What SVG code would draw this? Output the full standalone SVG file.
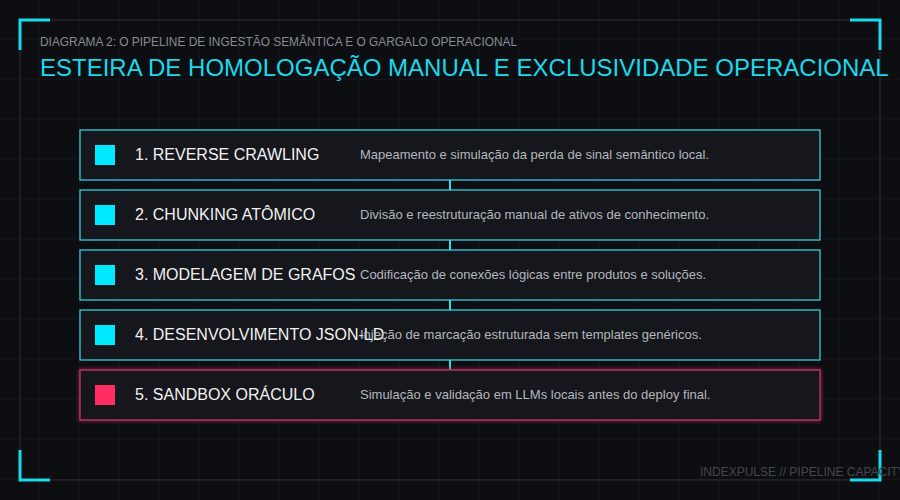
<svg xmlns="http://www.w3.org/2000/svg" width="900" height="500" viewBox="0 0 900 500">
<defs>
<pattern id="grid" width="40" height="40" patternUnits="userSpaceOnUse">
<path d="M40 0 V40 M0 40 H40" fill="none" stroke="#181a1f" stroke-width="1"/>
</pattern>
<filter id="glow" x="-5%" y="-30%" width="110%" height="160%">
<feGaussianBlur in="SourceGraphic" stdDeviation="2" result="b"/>
<feMerge><feMergeNode in="b"/><feMergeNode in="SourceGraphic"/></feMerge>
</filter>
<style>
.bx{fill:#15171c;stroke:#33dced;stroke-width:1.2}
.bx.red{stroke:#d0386a}
.sq{fill:#00eaff}
.sq.red{fill:#ff2d62}
.lbl{font-family:"Liberation Sans",Arial,sans-serif;font-size:16px;fill:#f2f2f2}
.dsc{font-family:"Liberation Sans",Arial,sans-serif;font-size:13px;fill:#b4b7bd}
.br{fill:none;stroke:#1ad9ea;stroke-width:3}
</style>
</defs>
<rect width="900" height="500" fill="#0d0e12"/>
<rect width="900" height="500" fill="url(#grid)"/>
<rect x="20" y="20" width="860" height="460" fill="none" stroke="#2a2c32" stroke-width="1.2"/>
<path class="br" d="M20 50 V20 H50"/>
<path class="br" d="M850 20 H880 V50"/>
<path class="br" d="M20 450 V480 H50"/>
<path class="br" d="M850 480 H880 V450"/>
<text x="40" y="46" font-family="Liberation Sans,Arial,sans-serif" font-size="11.9" fill="#878b93">DIAGRAMA 2: O PIPELINE DE INGESTÃO SEMÂNTICA E O GARGALO OPERACIONAL</text>
<text x="40" y="76" font-family="Liberation Sans,Arial,sans-serif" font-size="24" fill="#1ad9ea">ESTEIRA DE HOMOLOGAÇÃO MANUAL E EXCLUSIVIDADE OPERACIONAL</text>
<g id="connectors" stroke="#33dced" stroke-width="2">
<line x1="450" y1="180" x2="450" y2="190"/>
<line x1="450" y1="240" x2="450" y2="250"/>
<line x1="450" y1="300" x2="450" y2="310"/>
<line x1="450" y1="360" x2="450" y2="370"/>
</g>
<g id="step1">
<rect class="bx" x="80" y="130" width="740" height="50"/>
<rect class="sq" x="95" y="145" width="20" height="20"/>
<text class="lbl" x="135" y="160">1. REVERSE CRAWLING</text>
<text class="dsc" x="360" y="159">Mapeamento e simulação da perda de sinal semântico local.</text>
</g>
<g id="step2">
<rect class="bx" x="80" y="190" width="740" height="50"/>
<rect class="sq" x="95" y="205" width="20" height="20"/>
<text class="lbl" x="135" y="220">2. CHUNKING ATÔMICO</text>
<text class="dsc" x="360" y="219">Divisão e reestruturação manual de ativos de conhecimento.</text>
</g>
<g id="step3">
<rect class="bx" x="80" y="250" width="740" height="50"/>
<rect class="sq" x="95" y="265" width="20" height="20"/>
<text class="lbl" x="135" y="280">3. MODELAGEM DE GRAFOS</text>
<text class="dsc" x="360" y="279">Codificação de conexões lógicas entre produtos e soluções.</text>
</g>
<g id="step4">
<rect class="bx" x="80" y="310" width="740" height="50"/>
<rect class="sq" x="95" y="325" width="20" height="20"/>
<text class="lbl" x="135" y="340">4. DESENVOLVIMENTO JSON-LD</text>
<text class="dsc" x="360" y="339">Injeção de marcação estruturada sem templates genéricos.</text>
</g>
<g id="step5">
<rect class="bx red" x="80" y="370" width="740" height="50" filter="url(#glow)"/>
<rect class="sq red" x="95" y="385" width="20" height="20"/>
<text class="lbl" x="135" y="400">5. SANDBOX ORÁCULO</text>
<text class="dsc" x="360" y="399">Simulação e validação em LLMs locais antes do deploy final.</text>
</g>
<text x="700" y="476" font-family="Liberation Sans,Arial,sans-serif" font-size="12" fill="#43474e">INDEXPULSE // PIPELINE CAPACITY</text>
</svg>
